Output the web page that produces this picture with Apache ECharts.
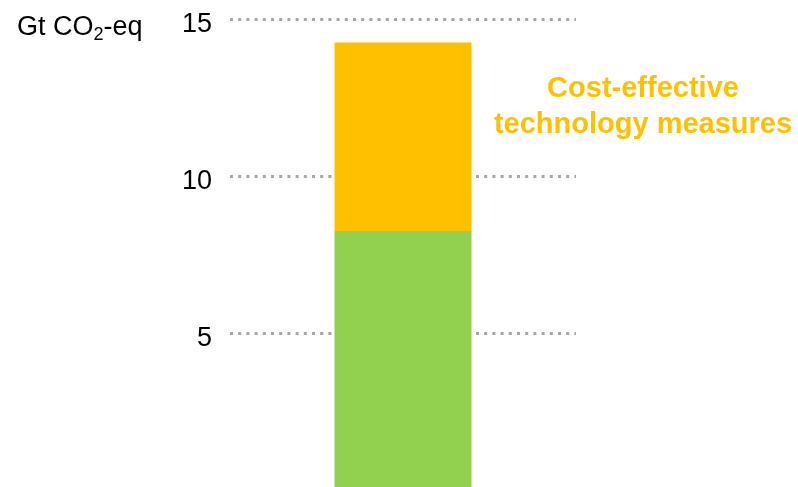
<!DOCTYPE html>
<html>
<head>
<meta charset="utf-8">
<script src="https://cdn.jsdelivr.net/npm/echarts@6/dist/echarts.min.js"></script>
<style>
  html, body { margin: 0; padding: 0; background: #ffffff; }
  #chart { width: 798px; height: 487px; }
</style>
</head>
<body>
<div id="chart"></div>
<script>
// Emission reduction potential, one stacked column
const categories = ['Potential'];
const baseValues = [8.25];        // green segment
const measureValues = [6.0];      // cost-effective technology measures
const yTicks = [5, 10, 15];
const annotationLines = ['Cost-effective', 'technology measures'];

const FONT = '"Liberation Sans", Arial, sans-serif';

const chart = echarts.init(document.getElementById('chart'), null, { renderer: 'canvas' });

chart.setOption({
  animation: false,
  backgroundColor: '#ffffff',
  grid: {
    left: 230, top: 19, width: 346, height: 471,
    containLabel: false,
    outerBoundsMode: 'none'
  },
  title: {
    left: 12,
    top: 8,
    text: '{a|Gt CO}{s|2}{a|-eq}',
    textStyle: {
      fontWeight: 'normal',
      rich: {
        a: { fontFamily: FONT, fontSize: 27, fontWeight: 'normal', color: '#000000', lineHeight: 30 },
        s: { fontFamily: FONT, fontSize: 18, fontWeight: 'normal', color: '#000000', lineHeight: 30, padding: [14, 0, 0, 0] }
      }
    }
  },
  xAxis: {
    type: 'category',
    data: categories,
    show: false
  },
  yAxis: {
    type: 'value',
    min: 0,
    max: 15,
    interval: 5,
    axisLine: { show: false },
    axisTick: { show: false },
    axisLabel: {
      margin: 18,
      fontFamily: FONT,
      fontSize: 27,
      color: '#000000',
      verticalAlign: 'top',
      lineHeight: 12,
      formatter: v => (yTicks.indexOf(v) >= 0 ? String(v) : '')
    },
    splitLine: {
      show: true,
      lineStyle: { color: '#a6a6a6', width: 3, type: [3, 5.2] }
    }
  },
  series: [
    {
      type: 'bar',
      stack: 'total',
      data: baseValues,
      barWidth: 137,
      itemStyle: { color: '#92D050' }
    },
    {
      type: 'bar',
      stack: 'total',
      data: measureValues,
      barWidth: 137,
      itemStyle: { color: '#FFC000' }
    }
  ],
  graphic: [
    {
      type: 'text',
      x: 643,
      y: 71,
      style: {
        text: annotationLines.join('\n'),
        fontFamily: FONT,
        fontSize: 29,
        fontWeight: 'bold',
        fill: '#FFC000',
        align: 'center',
        lineHeight: 36
      }
    }
  ]
});
</script>
</body>
</html>
